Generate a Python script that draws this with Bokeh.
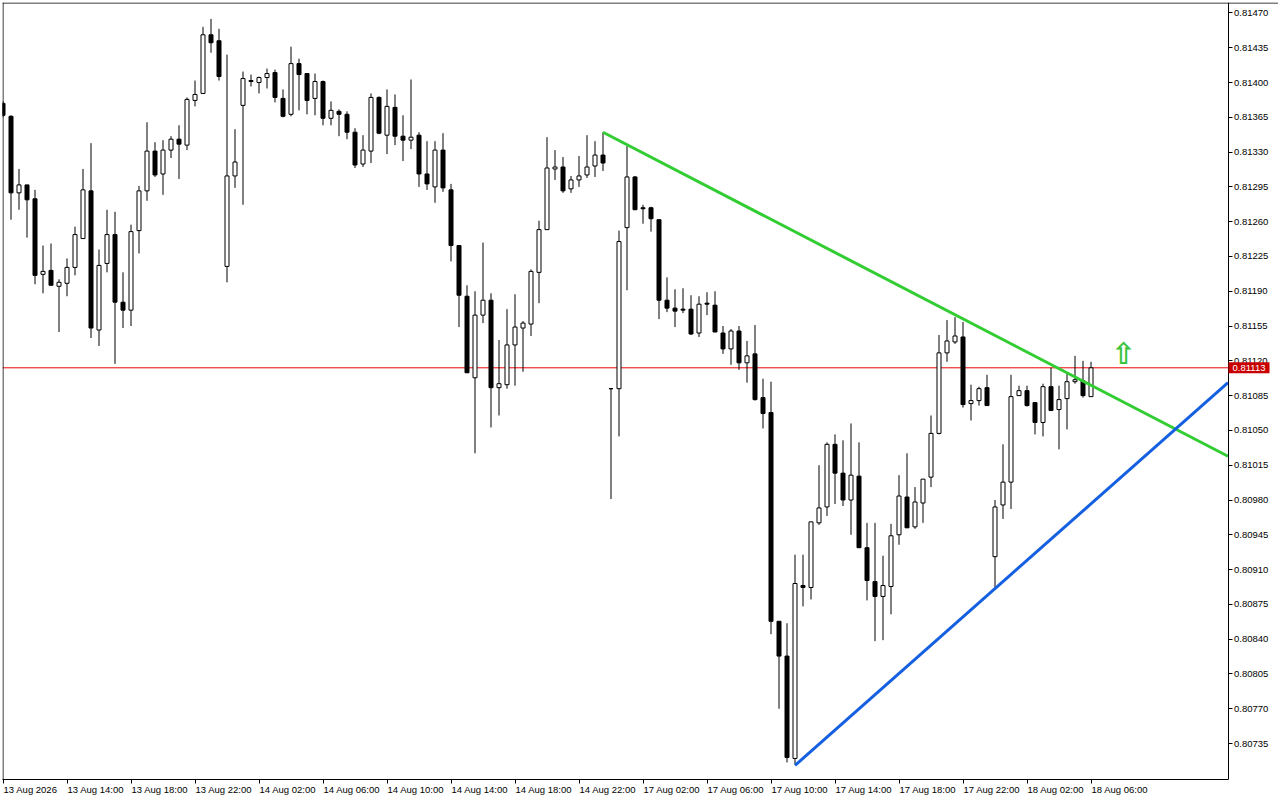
from bokeh.plotting import figure
from bokeh.models import ColumnDataSource, FixedTicker, PrintfTickFormatter, Span, Range1d, LinearAxis
from bokeh.embed import file_html
from bokeh.resources import INLINE
from bokeh.core.properties import value

# ---- data (M30 bars, 13 Aug 10:00 -> 18 Aug 06:00) ----
opens = [
    0.81379, 0.81366, 0.81289, 0.81297, 0.81283, 0.81207, 0.81211, 0.81195, 0.81198, 0.81214,
    0.81243, 0.81291, 0.81151, 0.81218, 0.81247, 0.81179, 0.81171, 0.81251, 0.81291, 0.81331,
    0.81308, 0.81332, 0.81343, 0.81337, 0.81382, 0.81389, 0.81448, 0.81442, 0.81215, 0.81306,
    0.81377, 0.81402, 0.81400, 0.81405, 0.81410, 0.81384, 0.81368, 0.81419, 0.81409, 0.81384,
    0.81401, 0.81364, 0.81371, 0.81368, 0.81350, 0.81318, 0.81331, 0.81385, 0.81347, 0.81375,
    0.81346, 0.81342, 0.81347, 0.81308, 0.81295, 0.81332, 0.81292, 0.81236, 0.81185, 0.81103,
    0.81166, 0.81181, 0.81093, 0.81096, 0.81136, 0.81153, 0.81157, 0.81209, 0.81252, 0.81313,
    0.81315, 0.81293, 0.81302, 0.81307, 0.81316, 0.81327, 0.81092, 0.81092, 0.81254, 0.81305,
    0.81274, 0.81274, 0.81262, 0.81181, 0.81173, 0.81172, 0.81172, 0.81148, 0.81178, 0.81176,
    0.81148, 0.81132, 0.81150, 0.81118, 0.81127, 0.81083, 0.81068, 0.80858, 0.80823, 0.80720,
    0.80894, 0.80892, 0.80957, 0.80973, 0.81036, 0.81007, 0.80980, 0.81004, 0.80932, 0.80898,
    0.80883, 0.80893, 0.80945, 0.80983, 0.80953, 0.80977, 0.81003, 0.81047, 0.81128, 0.81139,
    0.81144, 0.81077, 0.81080, 0.81093, 0.80923, 0.80975, 0.80998, 0.81085, 0.81090, 0.81078,
    0.81058, 0.81094, 0.81071, 0.81082, 0.81099, 0.81100, 0.81084,
]
highs = [
    0.81381, 0.81367, 0.81313, 0.81297, 0.81292, 0.81236, 0.81238, 0.81202, 0.81223, 0.81255,
    0.81313, 0.81339, 0.81232, 0.81272, 0.81270, 0.81209, 0.81257, 0.81296, 0.81360, 0.81340,
    0.81342, 0.81346, 0.81357, 0.81385, 0.81402, 0.81456, 0.81464, 0.81454, 0.81428, 0.81353,
    0.81411, 0.81408, 0.81406, 0.81414, 0.81413, 0.81393, 0.81436, 0.81424, 0.81409, 0.81409,
    0.81402, 0.81381, 0.81373, 0.81371, 0.81354, 0.81347, 0.81389, 0.81386, 0.81393, 0.81388,
    0.81367, 0.81403, 0.81350, 0.81341, 0.81341, 0.81349, 0.81298, 0.81236, 0.81196, 0.81190,
    0.81239, 0.81188, 0.81141, 0.81172, 0.81187, 0.81160, 0.81212, 0.81261, 0.81345, 0.81332,
    0.81325, 0.81306, 0.81326, 0.81347, 0.81341, 0.81350, 0.81092, 0.81251, 0.81336, 0.81306,
    0.81277, 0.81275, 0.81262, 0.81204, 0.81192, 0.81193, 0.81186, 0.81185, 0.81189, 0.81190,
    0.81155, 0.81152, 0.81155, 0.81140, 0.81156, 0.81102, 0.81099, 0.80858, 0.80856, 0.80925,
    0.80925, 0.80958, 0.81015, 0.81038, 0.81046, 0.81040, 0.81057, 0.81038, 0.80957, 0.80957,
    0.80924, 0.80956, 0.81005, 0.81027, 0.80993, 0.81001, 0.81065, 0.81146, 0.81161, 0.81164,
    0.81159, 0.81096, 0.81094, 0.81106, 0.80980, 0.81036, 0.81106, 0.81095, 0.81095, 0.81078,
    0.81097, 0.81113, 0.81095, 0.81107, 0.81125, 0.81120, 0.81119,
]
lows = [
    0.81365, 0.81262, 0.81272, 0.81244, 0.81197, 0.81188, 0.81196, 0.81149, 0.81185, 0.81206,
    0.81243, 0.81143, 0.81135, 0.81209, 0.81117, 0.81153, 0.81155, 0.81228, 0.81281, 0.81305,
    0.81287, 0.81324, 0.81303, 0.81332, 0.81376, 0.81389, 0.81430, 0.81402, 0.81199, 0.81294,
    0.81277, 0.81396, 0.81389, 0.81394, 0.81380, 0.81365, 0.81366, 0.81372, 0.81368, 0.81367,
    0.81357, 0.81357, 0.81346, 0.81343, 0.81314, 0.81315, 0.81319, 0.81348, 0.81328, 0.81337,
    0.81321, 0.81333, 0.81295, 0.81292, 0.81279, 0.81290, 0.81220, 0.81154, 0.81108, 0.81027,
    0.81158, 0.81053, 0.81065, 0.81092, 0.81095, 0.81109, 0.81145, 0.81178, 0.81252, 0.81302,
    0.81289, 0.81289, 0.81295, 0.81304, 0.81305, 0.81311, 0.80981, 0.81044, 0.81191, 0.81272,
    0.81258, 0.81250, 0.81162, 0.81169, 0.81154, 0.81168, 0.81146, 0.81144, 0.81166, 0.81149,
    0.81127, 0.81116, 0.81111, 0.81098, 0.81080, 0.81052, 0.80845, 0.80770, 0.80716, 0.80714,
    0.80873, 0.80880, 0.80955, 0.80964, 0.80976, 0.80974, 0.80945, 0.80932, 0.80879, 0.80838,
    0.80839, 0.80865, 0.80935, 0.80952, 0.80951, 0.80957, 0.80993, 0.81046, 0.81119, 0.81137,
    0.81073, 0.81060, 0.81075, 0.81075, 0.80892, 0.80961, 0.80971, 0.81085, 0.81074, 0.81046,
    0.81044, 0.81070, 0.81031, 0.81051, 0.81097, 0.81083, 0.81084,
]
closes = [
    0.81367, 0.81289, 0.81297, 0.81282, 0.81206, 0.81210, 0.81196, 0.81199, 0.81214, 0.81247,
    0.81292, 0.81153, 0.81216, 0.81247, 0.81179, 0.81171, 0.81250, 0.81291, 0.81331, 0.81307,
    0.81332, 0.81343, 0.81338, 0.81383, 0.81388, 0.81448, 0.81440, 0.81406, 0.81306, 0.81320,
    0.81404, 0.81401, 0.81405, 0.81409, 0.81385, 0.81366, 0.81419, 0.81408, 0.81382, 0.81401,
    0.81364, 0.81372, 0.81368, 0.81350, 0.81317, 0.81332, 0.81385, 0.81349, 0.81376, 0.81346,
    0.81342, 0.81345, 0.81308, 0.81298, 0.81332, 0.81294, 0.81236, 0.81186, 0.81108, 0.81166,
    0.81181, 0.81093, 0.81097, 0.81136, 0.81154, 0.81158, 0.81210, 0.81252, 0.81314, 0.81315,
    0.81291, 0.81302, 0.81306, 0.81315, 0.81327, 0.81319, 0.81092, 0.81240, 0.81305, 0.81272,
    0.81273, 0.81263, 0.81181, 0.81173, 0.81170, 0.81171, 0.81147, 0.81177, 0.81177, 0.81149,
    0.81132, 0.81150, 0.81118, 0.81125, 0.81081, 0.81067, 0.80858, 0.80823, 0.80721, 0.80896,
    0.80892, 0.80958, 0.80972, 0.81036, 0.81007, 0.80980, 0.81005, 0.80932, 0.80899, 0.80883,
    0.80894, 0.80944, 0.80984, 0.80952, 0.80978, 0.81001, 0.81047, 0.81128, 0.81140, 0.81145,
    0.81076, 0.81080, 0.81092, 0.81075, 0.80973, 0.80998, 0.81084, 0.81090, 0.81075, 0.81058,
    0.81094, 0.81070, 0.81081, 0.81099, 0.81101, 0.81085, 0.81113,
]

current_price = 0.81113

# trend lines (bar index, price)
green_x = [75, 153.125]
green_y = [0.81350, 0.81024]
blue_x = [99, 153.125]
blue_y = [0.80713, 0.81098]

# buy arrow
arrow_x = [140.06]
arrow_y = [0.81127]

# axis ticks
y_ticks = [0.80735, 0.80770, 0.80805, 0.80840, 0.80875, 0.80910, 0.80945, 0.80980,
           0.81015, 0.81050, 0.81085, 0.81120, 0.81155, 0.81190, 0.81225, 0.81260,
           0.81295, 0.81330, 0.81365, 0.81400, 0.81435, 0.81470]
x_tick_pos = [0, 8, 16, 24, 32, 40, 48, 56, 64, 72, 80, 88, 96, 104, 112, 120, 128, 136]
x_tick_labels = ["13 Aug 2026", "13 Aug 14:00", "13 Aug 18:00", "13 Aug 22:00",
                 "14 Aug 02:00", "14 Aug 06:00", "14 Aug 10:00", "14 Aug 14:00",
                 "14 Aug 18:00", "14 Aug 22:00", "17 Aug 02:00", "17 Aug 06:00",
                 "17 Aug 10:00", "17 Aug 14:00", "17 Aug 18:00", "17 Aug 22:00",
                 "18 Aug 02:00", "18 Aug 06:00"]

# ---- geometry of the chart window ----
BAR_PX = 8.0           # pixels per M30 bar
PX_PRICE = 1.006e-5    # price units per pixel
FRAME_W, FRAME_H = 1276, 777
X0 = -0.0625
X_END = X0 + FRAME_W / BAR_PX
Y_TOP = 0.8148049
Y_BOT = Y_TOP - FRAME_H * PX_PRICE
AXIS_X = 153.125       # bar coordinate of the price scale line

FONT = "Liberation Sans"

idx = list(range(len(opens)))
up = [c >= o for o, c in zip(opens, closes)]
src = ColumnDataSource(dict(
    x=idx,
    top=[max(o, c) for o, c in zip(opens, closes)],
    bottom=[min(o, c) for o, c in zip(opens, closes)],
    high=highs, low=lows,
    fill=["white" if u else "black" for u in up],
))

p = figure(frame_width=FRAME_W, frame_height=FRAME_H,
           output_backend="svg", toolbar_location=None,
           x_range=Range1d(X0, X_END), y_range=Range1d(Y_BOT, Y_TOP),
           y_axis_location="right",
           min_border_left=2, min_border_top=2, min_border_right=0, min_border_bottom=19)

p.background_fill_color = "white"
p.border_fill_color = "white"
p.outline_line_color = None
p.xgrid.visible = False
p.ygrid.visible = False

# frame borders (left / top)
p.add_layout(Span(location=0, dimension="height", line_color="black", line_width=1))
p.add_layout(Span(location=Y_TOP - 0.5 * PX_PRICE, dimension="width", line_color="black", line_width=1))

# current price line
p.line([X0, AXIS_X], [current_price, current_price], line_color="#ee0000", line_width=1)

# candles
p.segment(x0="x", x1="x", y0="low", y1="high", source=src, line_color="black", line_width=1)
p.vbar(x="x", width=0.5, top="top", bottom="bottom", source=src,
       fill_color="fill", line_color="black", line_width=1)

# trend lines
p.line(green_x, green_y, line_color="#32cd32", line_width=3)
p.line(blue_x, blue_y, line_color="#1560e0", line_width=3)

# arrow sign
p.text(x=arrow_x, y=arrow_y, text=["\u21e7"], text_color="#3cc43c",
       text_font=value("DejaVu Sans"), text_font_size="30px", text_font_style="bold",
       text_align="center", text_baseline="middle")

# price scale (fixed at the right end of the chart area)
ya = p.yaxis[0]
ya.fixed_location = AXIS_X
ya.ticker = FixedTicker(ticks=y_ticks)
ya.formatter = PrintfTickFormatter(format="%.5f")
ya.major_tick_out = 4
ya.major_tick_in = 0
ya.minor_tick_line_color = None
ya.major_label_standoff = 2
ya.major_label_text_font = FONT
ya.major_label_text_font_size = "9.5px"
ya.major_label_text_color = "black"
ya.axis_line_color = "black"

# current price tag on the price scale
tag_x = AXIS_X + 2.625
p.rect(x=[tag_x], y=[current_price], width=41, height=11,
       width_units="screen", height_units="screen",
       fill_color="#c80000", line_color=None, level="overlay")
p.text(x=[tag_x], y=[current_price], text=["%.5f" % current_price], text_color="white",
       text_font=value(FONT), text_font_size="9.5px",
       text_align="center", text_baseline="middle", level="overlay")

# time scale: tick marks
xa = p.xaxis[0]
xa.ticker = FixedTicker(ticks=x_tick_pos)
xa.major_label_overrides = {t: "" for t in x_tick_pos}
xa.major_label_text_font_size = "0px"
xa.major_label_standoff = 0
xa.major_tick_out = 4
xa.major_tick_in = 0
xa.minor_tick_line_color = None
xa.bounds = (X0, AXIS_X)
xa.axis_line_color = "black"

# time scale: labels starting at their tick
label_pos = [t + (3.44 if i == 0 else 3.6) for i, t in enumerate(x_tick_pos)]
xb = LinearAxis(ticker=FixedTicker(ticks=label_pos),
                major_label_overrides={lp: s for lp, s in zip(label_pos, x_tick_labels)})
xb.axis_line_color = None
xb.major_tick_line_color = None
xb.minor_tick_line_color = None
xb.major_tick_out = 0
xb.major_tick_in = 0
xb.major_label_standoff = 0
xb.major_label_text_font = FONT
xb.major_label_text_font_size = "9.5px"
xb.major_label_text_color = "black"
p.add_layout(xb, "below")

open("out.html", "w").write(file_html(p, INLINE, title="chart"))
